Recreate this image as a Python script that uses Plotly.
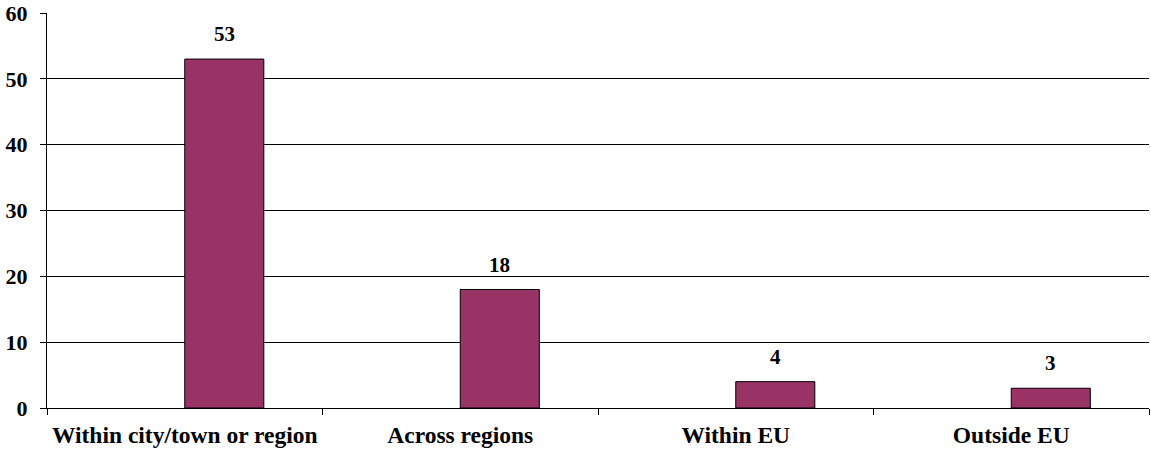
import plotly.graph_objects as go

categories = ["Within city/town or region", "Across regions", "Within EU", "Outside EU"]
values = [53, 18, 4, 3]
y_ticks = [0, 10, 20, 30, 40, 50, 60]

FONT = "Liberation Serif"
fig = go.Figure()
fig.add_trace(go.Bar(
    x=categories, y=values,
    offset=0, width=0.287,
    marker=dict(color="#993366", line=dict(color="#000000", width=1)),
    showlegend=False, hoverinfo="skip",
))
for c, v in zip(categories, values):
    fig.add_annotation(x=c, y=v, text=f"<b>{v}</b>", showarrow=False,
                       xshift=39.5, yanchor="bottom", yshift=11,
                       font=dict(family=FONT, size=21, color="#000000"))

fig.update_layout(
    width=1151, height=450,
    margin=dict(l=47, r=2, t=13, b=42),
    paper_bgcolor="white", plot_bgcolor="white",
    font=dict(family=FONT, size=21, color="#000000"),
)
fig.update_xaxes(
    type="category", range=[-0.5, 3.5], automargin=False, tickangle=0,
    showline=True, linecolor="#000000", linewidth=1,
    ticks="outside", tickson="boundaries", ticklen=6, tickcolor="#000000",
    tickfont=dict(family=FONT, size=23.5, color="#000000", weight="bold"),
    showgrid=False, ticklabelstandoff=6,
)
fig.update_yaxes(
    range=[0, 60], tickvals=y_ticks, automargin=False,
    showline=True, linecolor="#000000", linewidth=1,
    ticks="outside", ticklen=6, tickcolor="#000000",
    tickfont=dict(family=FONT, size=22, color="#000000", weight="bold"),
    showgrid=True, gridcolor="#000000", gridwidth=1,
    zeroline=False, ticklabelstandoff=8,
)
fig.write_html(
    "out.html",
    config={"displayModeBar": False},
    post_script="document.body.style.margin='0';Plotly.Plots.resize(document.getElementById('{plot_id}'));",
)
